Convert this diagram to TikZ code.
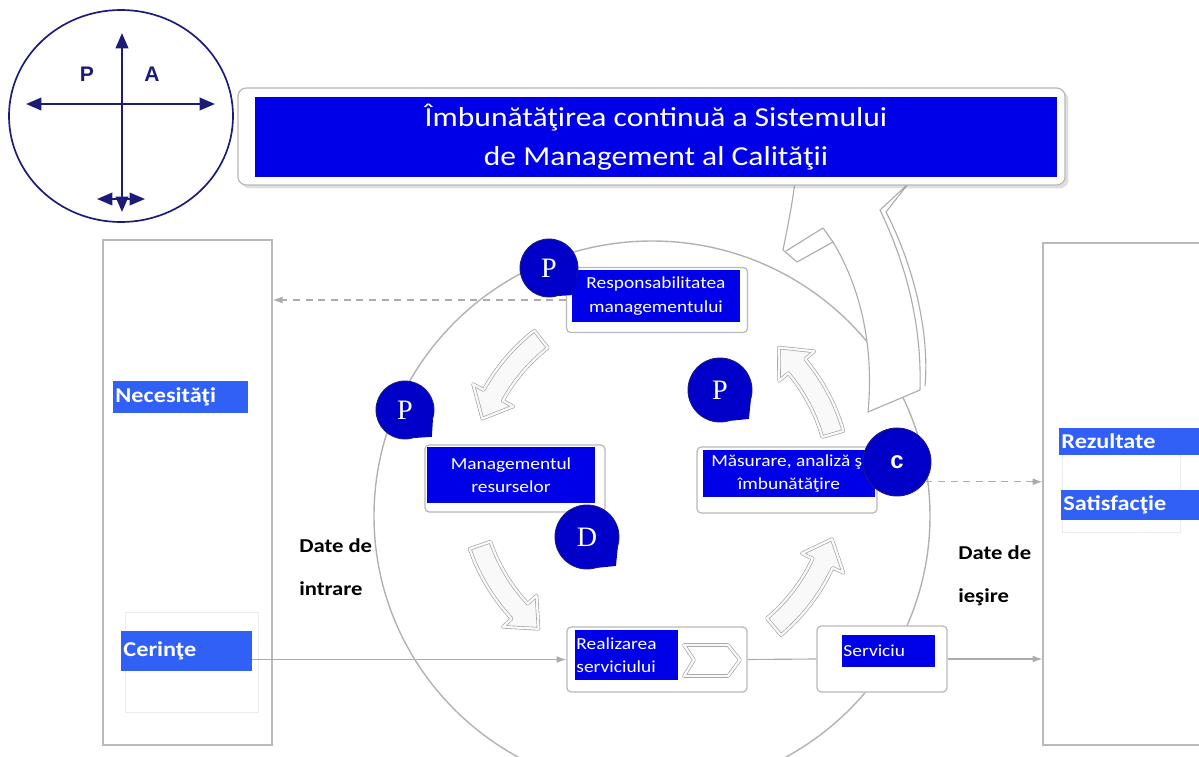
\documentclass[tikz,border=0pt]{standalone}
\usepackage{fontspec}
\setmainfont{Carlito}[FakeStretch=1.15]
\newfontfamily\pdcafont{Liberation Sans}
\newfontfamily\bubblefont{Liberation Serif}
\usetikzlibrary{arrows.meta,shadows}

\definecolor{navyline}{RGB}{28,28,120}
\definecolor{boxblue}{RGB}{0,0,232}
\definecolor{labelblue}{RGB}{48,96,245}
\definecolor{bubbleblue}{RGB}{0,0,200}

\tikzset{
  frame/.style={draw=gray!55, fill=white, rounded corners=3pt, line width=0.9pt, inner sep=0pt},
  boxlabel/.style={fill=boxblue, text=white, inner sep=0pt, align=center, font=\fontsize{12}{16.5}\selectfont},
  sidelabel/.style={fill=labelblue, text=white, inner xsep=1.5pt, inner ysep=0pt, align=left, font=\bfseries\fontsize{15}{16}\selectfont},
  bubble/.style={circle, fill=bubbleblue, draw=navyline, line width=0.6pt, text=white, inner sep=0pt, minimum size=1.45cm, font=\bubblefont\fontsize{20}{20}\selectfont},
  cyclearrow/.style={draw=gray!75, line width=0.45pt, double=gray!5, double distance=1.6pt, fill=gray!5, line join=round},
  flow/.style={draw=gray!65, line width=0.8pt, -{Latex[length=7pt,width=5pt]}},
  pdcaarrow/.style={draw=navyline, line width=1.4pt, {Triangle[length=11pt,width=9pt]}-{Triangle[length=11pt,width=9pt]}},
}

% curved arrow of the cycle: tail angle, head base angle, tip angle
\newcommand{\cyclearr}[3]{%
  \draw[cyclearrow] (#1:174) arc[start angle=#1, end angle=#2, radius=174]
    -- (#2:162) -- (#3:185) -- (#2:208) -- (#2:196)
    arc[start angle=#2, end angle=#1, radius=196] -- cycle;}
\newcommand{\bubbletail}[1]{%
  \fill[bubbleblue] (#1.-18) -- ([shift={(6,6)}]#1.south east) -- (#1.-72) -- cycle;}

\begin{document}
\begin{tikzpicture}[x=0.025cm, y=-0.025cm]
\useasboundingbox (0,0) rectangle (1199,757);
\clip (0,0) rectangle (1199,757);

% PDCA sign
\draw[navyline, line width=1.2pt] (121,116) ellipse [x radius=112, y radius=106];
\draw[pdcaarrow] (26,104) -- (215,104);
\draw[pdcaarrow] (122,212) -- (122,33);
\draw[pdcaarrow, line width=1.2pt] (97,199) -- (145,199);
\node[text=navyline, font=\pdcafont\bfseries\fontsize{15}{15}\selectfont] (pdcaP) at (87,74) {P};
\node[text=navyline, font=\pdcafont\bfseries\fontsize{15}{15}\selectfont] (pdcaA) at (152,74) {A};

% side boxes
\node[frame, rounded corners=0pt, minimum width=4.225cm, minimum height=12.625cm] (leftbox) at (187.5,492.5) {};
\node[frame, rounded corners=0pt, minimum width=4.35cm, minimum height=12.55cm] (rightbox) at (1130,494) {};
\draw[gray!15] (125,612) rectangle (258,712);
\draw[gray!15] (1062,430) rectangle (1180,532);
\node[sidelabel, text width=3.25cm, minimum height=0.8cm] (necesitati) at (180.5,397) {Necesităţi};
\node[sidelabel, text width=3.15cm, minimum height=1cm] (cerinte) at (186.5,651) {Cerinţe};
\node[sidelabel, text width=3.55cm, minimum height=0.675cm] (rezultate) at (1132.5,441.5) {Rezultate};
\node[sidelabel, text width=3.5cm, minimum height=0.75cm] (satisfactie) at (1133.5,505) {Satisfacţie};

% process circle
\draw[gray!60, line width=1pt] (652,516) ellipse [x radius=278, y radius=275];

% improvement arrow
\draw[draw=gray!65, fill=white, line width=0.8pt, line join=round]
  (868,412) .. controls (874,350) and (862,290) .. (833,242) -- (797,262) -- (783,250)
  .. controls (790,215) and (795,190) .. (797,160) -- (900,160) -- (908,184) -- (880,210)
  .. controls (905,262) and (922,322) .. (920,390) -- cycle;
\draw[gray!65, line width=0.8pt, line join=round] (786,251) -- (823,228) -- (833,242);
\draw[gray!65, line width=0.8pt] (908,184) -- (886,212) .. controls (912,262) and (930,330) .. (925,386);

% title
\node[frame, rounded corners=6pt, drop shadow={opacity=0.25}, minimum width=20.675cm, minimum height=2.425cm] (titleframe) at (651.5,136.5) {};
\node[boxlabel, minimum width=20.05cm, minimum height=2cm, font=\fontsize{19.5}{27.7}\selectfont] (title) at (656,137)
  {Îmbunătăţirea continuă a Sistemului\\de Management al Calităţii};

% cycle arrows
\begin{scope}[shift={(655,485)}]
  \cyclearr{232}{209}{201}
  \cyclearr{161}{137}{129}
  \cyclearr{50}{25}{17}
  \cyclearr{344}{320}{312}
\end{scope}

% process boxes
\node[frame, minimum width=4.525cm, minimum height=1.625cm] (respframe) at (657,300) {};
\node[boxlabel, minimum width=4.2cm, minimum height=1.3cm] (resp) at (656,296) {Responsabilitatea\\managementului};
\node[frame, minimum width=4.5cm, minimum height=1.675cm] (resframe) at (515,478.5) {};
\node[boxlabel, minimum width=4.2cm, minimum height=1.4cm] (res) at (511,475) {Managementul\\resurselor};
\node[frame, minimum width=4.5cm, minimum height=1.65cm] (masframe) at (787,480) {};
\node[boxlabel, minimum width=4.3cm, minimum height=1.175cm] (mas) at (789,473.5) {Măsurare, analiză şi\\îmbunătăţire};
\node[frame, minimum width=4.5cm, minimum height=1.625cm] (realframe) at (657,659.5) {};
\node[boxlabel, align=left, inner xsep=1pt, text width=2.5cm, minimum height=1.25cm] (real) at (626.5,655) {Realizarea\\serviciului};
\draw[cyclearrow, fill=white] (684,645) -- (728,645) -- (740,660) -- (728,676) -- (684,676) -- (694,660) -- cycle;
\node[frame, minimum width=3.25cm, minimum height=1.65cm] (servframe) at (882,659) {};
\node[boxlabel, align=left, inner xsep=1pt, text width=2.25cm, minimum height=0.8cm] (serv) at (888.5,651) {Serviciu};

% bubbles
\node[bubble] (pResp) at (549,268) {P};
\bubbletail{pResp}
\node[bubble] (pRes) at (405,410) {P};
\bubbletail{pRes}
\node[bubble, minimum size=1.6cm] (dRes) at (587,537) {D};
\bubbletail{dRes}
\node[bubble, minimum size=1.6cm] (pMas) at (720,390) {P};
\bubbletail{pMas}
\node[bubble, minimum size=1.7cm, font=\pdcafont\bfseries\fontsize{17}{17}\selectfont] (cMas) at (897,462) {c};

% data labels
\node[anchor=north west, align=left, inner sep=0pt, font=\bfseries\fontsize{14}{31}\selectfont] (intrare) at (299,538) {Date de\\intrare};
\node[anchor=north west, align=left, inner sep=0pt, font=\bfseries\fontsize{14}{31}\selectfont] (iesire) at (958,545) {Date de\\ieşire};

% connectors
\draw[flow, dash pattern=on 5pt off 4pt] (respframe.west) -- (respframe.west -| leftbox.east);
\draw[flow, dash pattern=on 5pt off 4pt] (cMas.-35) -- (cMas.-35 -| rightbox.west);
\draw[flow] (cerinte.east |- realframe.west) -- (realframe.west);
\draw[draw=gray!65, line width=0.8pt] (realframe.east) -- (servframe.west);
\draw[flow] (servframe.east) -- (servframe.east -| rightbox.west);

\end{tikzpicture}
\end{document}
